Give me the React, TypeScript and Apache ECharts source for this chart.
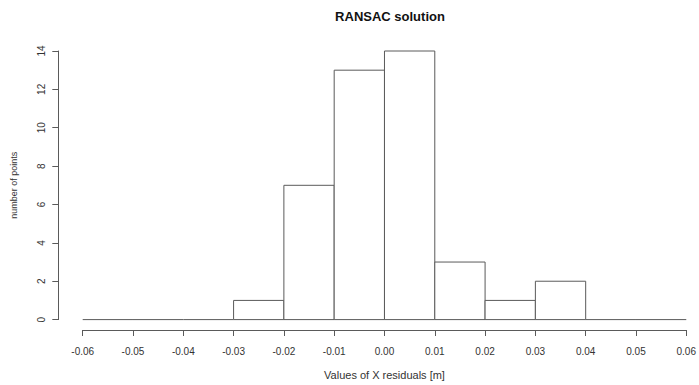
import React, { useEffect, useRef } from "react";
import * as echarts from "echarts";

const binEdges = [-0.06, -0.05, -0.04, -0.03, -0.02, -0.01, 0.0, 0.01, 0.02, 0.03, 0.04, 0.05, 0.06];
const counts = [0, 0, 0, 1, 7, 13, 14, 3, 1, 2, 0, 0];
const titleText = "RANSAC solution";
const xTitle = "Values of X residuals [m]";
const yTitle = "number of points";

const FONT = "'Liberation Sans', Arial, Helvetica, sans-serif";
const LINE = "#5a5a5a";
const TEXT = "#333";

export default function App() {
  const ref = useRef<HTMLDivElement>(null);
  useEffect(() => {
    if (!ref.current) return;
    const chart = echarts.init(ref.current, undefined, { renderer: "svg" });
    const data = counts.map((c, i) => [binEdges[i], binEdges[i + 1], c]);
    chart.setOption({
      animation: false,
      backgroundColor: "#fff",
      title: {
        text: titleText,
        left: 385,
        top: 5,
        textAlign: "center",
        textStyle: { fontFamily: FONT, fontSize: 13, fontWeight: "bold", color: "#111" },
      },
      tooltip: { show: false },
      grid: { left: 82.7, right: 11.7, top: 51, bottom: 59.7, containLabel: false },
      xAxis: {
        type: "value",
        min: -0.06,
        max: 0.06,
        interval: 0.01,
        offset: 10.4,
        name: xTitle,
        nameLocation: "middle",
        nameGap: 39,
        nameTextStyle: { fontFamily: FONT, fontSize: 11, color: TEXT },
        axisLine: { show: true, onZero: false, lineStyle: { color: LINE, width: 1 } },
        axisTick: { show: true, length: 6, lineStyle: { color: LINE } },
        axisLabel: {
          fontFamily: FONT,
          fontSize: 10,
          color: TEXT,
          margin: 16,
          formatter: (v: number) => v.toFixed(2),
        },
        splitLine: { show: false },
      },
      yAxis: {
        type: "value",
        min: 0,
        max: 14,
        interval: 2,
        offset: 24.4,
        name: yTitle,
        nameLocation: "middle",
        nameGap: 40,
        nameTextStyle: { fontFamily: FONT, fontSize: 9, color: TEXT },
        axisLine: { show: true, onZero: false, lineStyle: { color: LINE, width: 1 } },
        axisTick: { show: true, length: 6, lineStyle: { color: LINE } },
        axisLabel: { fontFamily: FONT, fontSize: 10, color: TEXT, rotate: 90, margin: 12 },
        splitLine: { show: false },
      },
      series: [
        {
          type: "custom",
          data,
          clip: false,
          silent: true,
          renderItem: (params: any, api: any) => {
            const x0 = api.value(0);
            const x1 = api.value(1);
            const y = api.value(2);
            const pTop = api.coord([x0, y]);
            const pBase = api.coord([x1, 0]);
            if (y === 0) {
              return {
                type: "line",
                shape: { x1: pTop[0], y1: pBase[1], x2: pBase[0], y2: pBase[1] },
                style: { stroke: LINE, lineWidth: 1 },
              };
            }
            return {
              type: "rect",
              shape: { x: pTop[0], y: pTop[1], width: pBase[0] - pTop[0], height: pBase[1] - pTop[1] },
              style: { fill: "#fff", stroke: LINE, lineWidth: 1 },
            };
          },
        },
      ],
    });
    return () => chart.dispose();
  }, []);
  return (
    <div
      ref={ref}
      style={{ position: "absolute", left: 0, top: 0, width: 699, height: 385, background: "#fff" }}
    />
  );
}
